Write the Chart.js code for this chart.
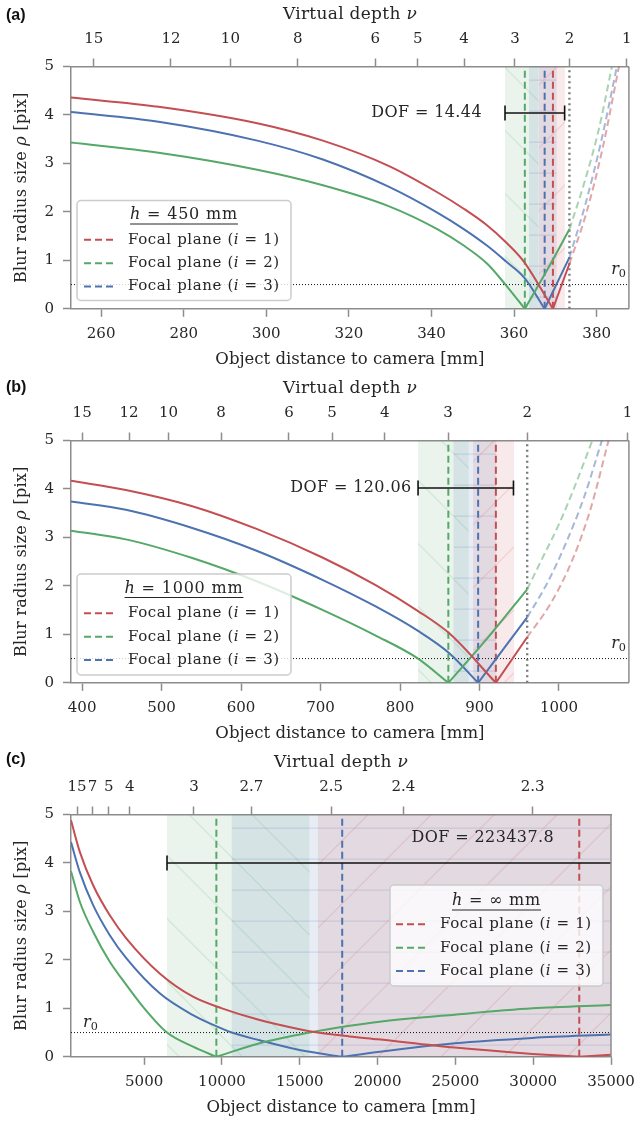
<!DOCTYPE html>
<html>
<head>
<meta charset="utf-8">
<script src="https://cdn.jsdelivr.net/npm/chart.js@4.4.1/dist/chart.umd.min.js"></script>
<style>
  html, body { margin: 0; padding: 0; background: #fff; }
  body { width: 638px; height: 1121px; position: relative; overflow: hidden; }
  .panel { position: absolute; left: 0; width: 638px; height: 373px; }
  .tag { position: absolute; left: 6px; font: bold 16px "Liberation Sans", Arial, sans-serif; color: #111; }
</style>
</head>
<body>
<div class="panel" style="top:0"><canvas id="chartA" width="638" height="373"></canvas></div>
<div class="panel" style="top:374px"><canvas id="chartB" width="638" height="373"></canvas></div>
<div class="panel" style="top:748px"><canvas id="chartC" width="638" height="373"></canvas></div>
<div class="tag" style="top:6px">(a)</div>
<div class="tag" style="top:378px">(b)</div>
<div class="tag" style="top:750px">(c)</div>
<script>
// ---- values: [object distance mm, blur radius pix] ----
const R0 = 0.5;
const yTicks = [0, 1, 2, 3, 4, 5];

// (a) h = 450 mm
const aRange = [252.7, 387.8];
const aBottomTicks = [260, 280, 300, 320, 340, 360, 380];
const aNuLabels = ['15', '12', '10', '8', '6', '5', '4', '3', '2', '1'];
const aNuPos = [258.2, 276.9, 291.3, 307.6, 326.4, 336.7, 347.9, 360.2, 373.4, 387.3];
const aRedNear = [[252.7, 4.36], [273.9, 4.17], [297.8, 3.83], [313.7, 3.47], [329.6, 2.95], [341.5, 2.40], [347.9, 2.06], [353.5, 1.72], [357.7, 1.40], [362.4, 0.97], [369.4, 0]];
const aRedFar = [[369.4, 0], [373.4, 0.93]];
const aRedExt = [[373.4, 0.93], [377.4, 1.95], [381.4, 3.3], [385.4, 5.0]];
const aGreenNear = [[252.7, 3.43], [273.9, 3.22], [297.8, 2.87], [313.7, 2.55], [329.6, 2.12], [341.5, 1.64], [347.9, 1.30], [353.5, 0.93], [357.9, 0.50], [362.6, 0]];
const aGreenFar = [[362.6, 0], [368, 0.8], [373.4, 1.64]];
const aGreenExt = [[373.4, 1.64], [377, 2.6], [380.5, 3.7], [383.7, 5.0]];
const aBlueNear = [[252.7, 4.06], [273.9, 3.86], [297.8, 3.47], [313.7, 3.08], [329.6, 2.52], [341.5, 1.98], [347.9, 1.64], [353.5, 1.30], [358, 0.98], [362.6, 0.63], [367.4, 0]];
const aBlueFar = [[367.4, 0], [373.4, 1.06]];
const aBlueExt = [[373.4, 1.06], [377.4, 2.2], [381.2, 3.5], [384.9, 5.0]];
const aFocus = [369.4, 362.6, 367.4];           // red, green, blue
const aNuTwo = 373.4;
const aBands = [[366.0, 372.3], [357.8, 365.9], [363.6, 370.3]];
const aDof = [357.8, 372.24, 4.04];
const aDofText = '14.44';

// (b) h = 1000 mm
const bRange = [386, 1088];
const bBottomTicks = [400, 500, 600, 700, 800, 900, 1000];
const bNuLabels = ['15', '12', '10', '8', '6', '5', '4', '3', '2', '1'];
const bNuPos = [400, 459.1, 508.7, 574.8, 660.3, 714.5, 780.8, 860.4, 960, 1086.4];
const bRedNear = [[386, 4.17], [455, 3.98], [537.6, 3.65], [620.3, 3.17], [703, 2.58], [768.8, 2.02], [822.7, 1.48], [862, 1.02], [920.6, 0]];
const bRedFar = [[920.6, 0], [960, 0.94]];
const bRedExt = [[960, 0.94], [990, 1.65], [1017, 2.54], [1040, 3.6], [1062.4, 5.0]];
const bGreenNear = [[386, 3.14], [455, 2.96], [537.6, 2.58], [620.3, 2.09], [703, 1.50], [768.8, 0.98], [822.7, 0.50], [860.8, 0]];
const bGreenFar = [[860.8, 0], [910, 0.92], [960, 1.93]];
const bGreenExt = [[960, 1.93], [980, 2.6], [1000.5, 3.29], [1021, 4.1], [1042, 5.0]];
const bBlueNear = [[386, 3.74], [455, 3.57], [537.6, 3.20], [620.3, 2.72], [703, 2.12], [768.8, 1.58], [822.7, 1.07], [862, 0.61], [898.3, 0]];
const bBlueFar = [[898.3, 0], [960, 1.35]];
const bBlueExt = [[960, 1.35], [985, 2.05], [1008.7, 2.88], [1032, 3.85], [1054, 5.0]];
const bFocus = [920.6, 860.8, 898.3];
const bNuTwo = 960;
const bBands = [[892, 943.5], [822.7, 886.5], [867.3, 921]];
const bDof = [822.7, 942.76, 4.02];
const bDofText = '120.06';

// (c) h = infinity
const cRange = [300, 35000];
const cBottomTicks = [5000, 10000, 15000, 20000, 25000, 30000, 35000];
const cNuLabels = ['15', '7', '5', '4', '3', '2.7', '2.5', '2.4', '2.3'];
const cNuPos = [693, 1682, 2728, 4076, 8203, 11887, 17022, 21662, 29962];
const cRedNear = [[300, 4.88], [866, 4.23], [1722, 3.54], [2792, 2.92], [3864, 2.44], [6001, 1.72], [8139, 1.24], [10000, 1.0], [12420, 0.76], [14987, 0.57], [16162, 0.50], [18196, 0.42], [20013, 0.36], [24955, 0.19], [29962, 0.06], [32960, 0]];
const cRedFar = [[32960, 0], [35000, 0.04]];
const cGreenNear = [[300, 3.83], [866, 3.20], [1722, 2.58], [2792, 1.96], [3864, 1.48], [4930, 1.03], [6470, 0.50], [8139, 0.21], [9640, 0]];
const cGreenFar = [[9640, 0], [12420, 0.28], [15629, 0.50], [18196, 0.64], [20013, 0.72], [24955, 0.87], [29962, 1.0], [35000, 1.07]];
const cBlueNear = [[300, 4.43], [866, 3.81], [1722, 3.13], [2792, 2.51], [3864, 2.03], [6001, 1.31], [8139, 0.86], [10000, 0.58], [10623, 0.50], [12420, 0.34], [14987, 0.14], [17728, 0]];
const cBlueFar = [[17728, 0], [20013, 0.10], [24955, 0.28], [29962, 0.39], [35000, 0.46]];
const cFocus = [32960, 9640, 17728];
const cBands = [[16162, 35000], [6470, 15629], [10623, 35000]];
const cDof = [6470, 229907.8, 4.0];
const cDofText = '223437.8';

// ---- style ----
const SERIF = '"DejaVu Serif", serif';
const INK = '#262626';
const SPINE = '#8c8c8c';
const COLORS = ['#C44E52', '#55A868', '#4C72B0'];
const FADED = ['rgba(196,78,82,0.5)', 'rgba(85,168,104,0.5)', 'rgba(76,114,176,0.5)'];
const BAND_FILL = ['rgba(196,78,82,0.12)', 'rgba(85,168,104,0.12)', 'rgba(76,114,176,0.13)'];
const BAND_HATCH = ['rgba(196,78,82,0.16)', 'rgba(85,168,104,0.16)', 'rgba(76,114,176,0.18)'];
const HATCH = ['/', '\\', '-'];

function drawRich(ctx, parts, x, y, align, size, spacing) {
  ctx.save();
  ctx.letterSpacing = (spacing || 0) + 'px';
  const fontFor = (st) => (st === 'i' ? 'italic ' : '') + (st === 's' ? size * 0.7 : size) + 'px ' + SERIF;
  let total = 0;
  const widths = parts.map(([t, st]) => {
    ctx.font = fontFor(st);
    const w = ctx.measureText(t).width;
    total += w;
    return w;
  });
  const left = align === 'center' ? x - total / 2 : align === 'right' ? x - total : x;
  let cx = left;
  ctx.textBaseline = 'middle';
  ctx.textAlign = 'left';
  ctx.fillStyle = INK;
  parts.forEach(([t, st], k) => {
    ctx.font = fontFor(st);
    ctx.fillText(t, cx, st === 's' ? y + size * 0.3 : y);
    cx += widths[k];
  });
  ctx.restore();
  return { left, width: total };
}

function toPoints(pairs) {
  return pairs.map(([x, y]) => ({ x, y }));
}

function tickScale(values, extra) {
  return Object.assign({
    type: 'linear',
    afterBuildTicks: (s) => { s.ticks = values.map((v) => ({ value: v })); },
    grid: { display: true, drawOnChartArea: false, drawTicks: true, tickLength: 8, tickWidth: 1.5, tickColor: SPINE },
    border: { display: true, color: SPINE, width: 1.5 },
  }, extra);
}

function tickFont(padding, callback) {
  return { autoSkip: false, maxRotation: 0, minRotation: 0, padding, color: INK, font: { family: SERIF, size: 15 }, callback };
}

function makePanel(p) {
  const datasets = [];
  const curveBase = { borderWidth: 2, pointRadius: 0, fill: false, cubicInterpolationMode: 'monotone' };

  // depth-of-field bar, capped only where it ends inside the plot
  const dofEnd = Math.min(p.dof[1], p.range[1]);
  datasets.push({
    data: toPoints([[p.dof[0], p.dof[2]], [dofEnd, p.dof[2]]]),
    borderColor: '#111', borderWidth: 1.6, tension: 0,
    pointStyle: 'line', pointRotation: 90, pointBorderColor: '#111', pointBorderWidth: 1.6,
    pointRadius: [7.5, p.dof[1] > p.range[1] ? 0 : 7.5],
  });

  p.curves.forEach(([near, far, ext], i) => {
    datasets.push(Object.assign({ data: toPoints(near), borderColor: COLORS[i] }, curveBase));
    datasets.push(Object.assign({ data: toPoints(far), borderColor: COLORS[i] }, curveBase));
    if (ext) {
      datasets.push(Object.assign({ data: toPoints(ext), borderColor: FADED[i], borderDash: [7, 4] }, curveBase));
    }
  });

  p.focus.forEach((f, i) => {
    datasets.push({ data: toPoints([[f, 0], [f, 5]]), borderColor: COLORS[i], borderWidth: 2, borderDash: [7, 4], pointRadius: 0, tension: 0 });
  });

  if (p.nuTwo) {
    datasets.push({ data: toPoints([[p.nuTwo, 0], [p.nuTwo, 5]]), borderColor: '#7a7a7a', borderWidth: 2.4, borderDash: [2, 3.5], pointRadius: 0, tension: 0 });
  }

  datasets.push({ data: toPoints([[p.range[0], R0], [p.range[1], R0]]), borderColor: '#111', borderWidth: 1, borderDash: [1, 2], pointRadius: 0, tension: 0 });

  const bandPlugin = {
    id: 'bands',
    beforeDatasetsDraw(chart) {
      const { ctx, chartArea: a, scales: { x } } = chart;
      ctx.save();
      ctx.beginPath();
      ctx.rect(a.left, a.top, a.width, a.height);
      ctx.clip();
      [1, 2, 0].forEach((i) => {
        const b = p.bands[i];
        const x0 = Math.max(a.left, x.getPixelForValue(b[0]));
        const x1 = Math.min(a.right, x.getPixelForValue(b[1]));
        ctx.fillStyle = BAND_FILL[i];
        ctx.fillRect(x0, a.top, x1 - x0, a.height);
        ctx.save();
        ctx.beginPath();
        ctx.rect(x0, a.top, x1 - x0, a.height);
        ctx.clip();
        ctx.strokeStyle = BAND_HATCH[i];
        ctx.lineWidth = 1.3;
        ctx.beginPath();
        if (HATCH[i] === '-') {
          for (let y = a.bottom - 11.7; y > a.top; y -= 31) {
            ctx.moveTo(x0, y);
            ctx.lineTo(x1, y);
          }
        } else {
          const period = 63;
          const h = a.height;
          for (let c = Math.floor((x0 - h) / period) * period; c < x1 + h; c += period) {
            if (HATCH[i] === '\\') {
              ctx.moveTo(c, a.top);
              ctx.lineTo(c + h, a.bottom);
            } else {
              ctx.moveTo(c, a.bottom);
              ctx.lineTo(c + h, a.top);
            }
          }
        }
        ctx.stroke();
        ctx.restore();
      });
      ctx.restore();
    },
  };

  const textPlugin = {
    id: 'texts',
    afterDraw(chart) {
      const { ctx, chartArea: a, scales: { x, y } } = chart;

      // right spine
      ctx.save();
      ctx.strokeStyle = SPINE;
      ctx.lineWidth = 1.5;
      ctx.beginPath();
      ctx.moveTo(a.right, a.top);
      ctx.lineTo(a.right, a.bottom);
      ctx.stroke();
      ctx.restore();

      drawRich(ctx, [['Virtual depth ', 'r'], ['\u03bd', 'i']], (a.left + a.right) / 2, a.top - 51.5, 'center', 17, 0.3);

      ctx.save();
      ctx.translate(22, (a.top + a.bottom) / 2);
      ctx.rotate(-Math.PI / 2);
      drawRich(ctx, [['Blur radius size ', 'r'], ['\u03c1', 'i'], [' [pix]', 'r']], 0, 0, 'center', 16, 0.3);
      ctx.restore();

      // r0 label
      const r0y = y.getPixelForValue(R0) - p.r0Lift;
      if (p.r0Side === 'right') {
        drawRich(ctx, [['r', 'i'], ['0', 's']], a.right - 3, r0y, 'right', 16);
      } else {
        drawRich(ctx, [['r', 'i'], ['0', 's']], a.left + 12, r0y, 'left', 16);
      }

      // DOF label
      const dofParts = [['DOF = ' + p.dofText, 'r']];
      if (p.dofLabel.align === 'right') {
        drawRich(ctx, dofParts, x.getPixelForValue(p.dof[0]) - p.dofLabel.gap, y.getPixelForValue(p.dof[2]), 'right', 16, 0.4);
      } else {
        drawRich(ctx, dofParts, x.getPixelForValue(p.dofLabel.x), y.getPixelForValue(p.dofLabel.y), 'center', 16, 0.4);
      }

      // legend
      const L = p.legend;
      const lx = a.left + L.dx;
      const ly = a.top + L.dy;
      ctx.save();
      ctx.fillStyle = 'rgba(255,255,255,0.8)';
      ctx.strokeStyle = '#cccccc';
      ctx.lineWidth = 1.5;
      ctx.beginPath();
      ctx.roundRect(lx, ly, L.w, L.h, 4);
      ctx.fill();
      ctx.stroke();
      ctx.restore();

      const t = drawRich(ctx, [['h', 'i'], [' = ' + p.hText + ' mm', 'r']], lx + L.w / 2, ly + L.titleY, 'center', 16, 0.8);
      ctx.save();
      ctx.strokeStyle = INK;
      ctx.lineWidth = 1;
      ctx.beginPath();
      ctx.moveTo(t.left, ly + L.titleY + 9);
      ctx.lineTo(t.left + t.width, ly + L.titleY + 9);
      ctx.stroke();
      ctx.restore();

      ['1', '2', '3'].forEach((n, k) => {
        const ry = ly + 39.3 + k * 23.35;
        ctx.save();
        ctx.strokeStyle = COLORS[k];
        ctx.lineWidth = 2;
        ctx.setLineDash([7, 4]);
        ctx.beginPath();
        ctx.moveTo(lx + L.sample, ry);
        ctx.lineTo(lx + L.sample + 31, ry);
        ctx.stroke();
        ctx.restore();
        drawRich(ctx, [['Focal plane (', 'r'], ['i', 'i'], [' = ' + n + ')', 'r']], lx + L.text, ry, 'left', 15, 0.6);
      });
    },
  };

  return new Chart(document.getElementById(p.id), {
    type: 'line',
    data: { datasets },
    plugins: [bandPlugin, textPlugin],
    options: {
      responsive: false,
      animation: false,
      events: [],
      devicePixelRatio: 1,
      layout: { padding: { left: 0, top: 0, bottom: 0, right: p.padRight } },
      plugins: { legend: { display: false }, tooltip: { enabled: false } },
      scales: {
        x: tickScale(p.bottomTicks, {
          position: 'bottom', min: p.range[0], max: p.range[1],
          ticks: tickFont(8, (v) => String(v)),
          title: { display: true, text: 'Object distance to camera [mm]', color: INK, font: { family: SERIF, size: 16.5 }, padding: { top: 0, bottom: 3 } },
          afterFit: (s) => { s.height = 373 - 308.8; s.paddingLeft = 0; s.paddingRight = 0; },
        }),
        xTop: tickScale(p.nuPos, {
          position: 'top', min: p.range[0], max: p.range[1],
          ticks: tickFont(10, (v, i) => p.nuLabels[i]),
          afterFit: (s) => { s.height = 66.5; s.paddingLeft = 0; s.paddingRight = 0; },
        }),
        y: tickScale(yTicks, {
          position: 'left', min: 0, max: 5,
          ticks: tickFont(9, (v) => String(v)),
          afterFit: (s) => { s.width = 71; s.paddingTop = 0; s.paddingBottom = 0; },
        }),
      },
    },
  });
}

makePanel({
  id: 'chartA', range: aRange, bottomTicks: aBottomTicks, nuLabels: aNuLabels, nuPos: aNuPos,
  curves: [[aRedNear, aRedFar, aRedExt], [aGreenNear, aGreenFar, aGreenExt], [aBlueNear, aBlueFar, aBlueExt]],
  focus: aFocus, nuTwo: aNuTwo, bands: aBands, dof: aDof, dofText: aDofText,
  dofLabel: { align: 'right', gap: 23 }, hText: '450', padRight: 1,
  r0Side: 'right', r0Lift: 15,
  legend: { dx: 6, dy: 134, w: 214, h: 100, titleY: 14.5, sample: 7, text: 51 },
});

makePanel({
  id: 'chartB', range: bRange, bottomTicks: bBottomTicks, nuLabels: bNuLabels, nuPos: bNuPos,
  curves: [[bRedNear, bRedFar, bRedExt], [bGreenNear, bGreenFar, bGreenExt], [bBlueNear, bBlueFar, bBlueExt]],
  focus: bFocus, nuTwo: bNuTwo, bands: bBands, dof: bDof, dofText: bDofText,
  dofLabel: { align: 'right', gap: 6.5 }, hText: '1000', padRight: 1,
  r0Side: 'right', r0Lift: 15,
  legend: { dx: 6, dy: 133.5, w: 214, h: 101, titleY: 14.5, sample: 7, text: 51 },
});

makePanel({
  id: 'chartC', range: cRange, bottomTicks: cBottomTicks, nuLabels: cNuLabels, nuPos: cNuPos,
  curves: [[cRedNear, cRedFar, null], [cGreenNear, cGreenFar, null], [cBlueNear, cBlueFar, null]],
  focus: cFocus, nuTwo: null, bands: cBands, dof: cDof, dofText: cDofText,
  dofLabel: { align: 'center', x: 26760, y: 4.52 }, hText: '\u221e', padRight: 27,
  r0Side: 'left', r0Lift: 10,
  legend: { dx: 319, dy: 70.5, w: 213, h: 101, titleY: 16, sample: 6, text: 50 },
});
</script>
</body>
</html>
